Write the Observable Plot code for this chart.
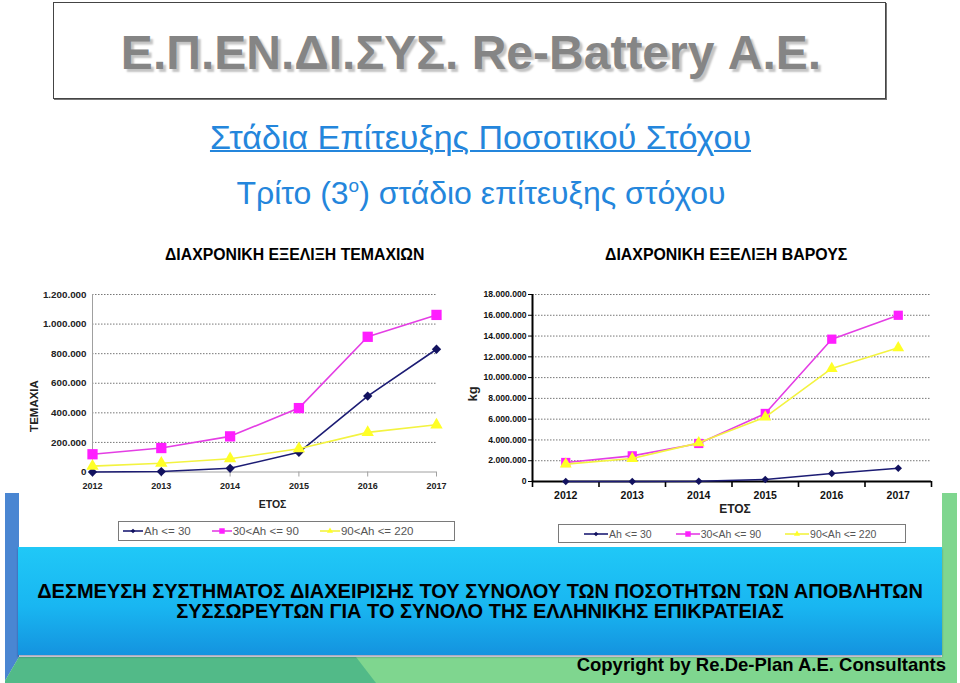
<!DOCTYPE html>
<html><head><meta charset="utf-8">
<script src="https://cdn.jsdelivr.net/npm/d3@7"></script>
<script src="https://cdn.jsdelivr.net/npm/@observablehq/plot@0.6"></script>
<style>
body{margin:0;background:#fff;}
#page{position:relative;width:960px;height:683px;overflow:hidden;background:#fff;font-family:"Liberation Sans",Arial,sans-serif;color:#000;}
.abs{position:absolute;}
.t{position:absolute;line-height:1;white-space:nowrap;}
.legend{position:absolute;box-sizing:border-box;border:1px solid #7a7a7a;background:#fff;display:flex;align-items:center;color:#555;white-space:nowrap;}
.legend .item{display:flex;align-items:center;}
.rot{position:absolute;transform:translate(-50%,-50%) rotate(-90deg);font-weight:bold;white-space:nowrap;line-height:1;}
</style></head><body>
<div id="page">
  <!-- bottom decoration -->
  <svg class="abs" style="left:0;top:0" width="960" height="683">
    <polygon points="5,493 19,493 19,657 5,681" fill="#4a86d2"/>
    <polygon points="942,493 957,493 957,683 942,683" fill="#7fd68f"/>
    <polygon points="19,657 957,657 957,683 5,683 5,681" fill="#7fd68f"/>
    <polygon points="19,657 356,657 376,683 5,683 5,681" fill="#52ba88"/>
  </svg>
  <div class="abs" style="left:18px;top:547px;width:924px;height:108px;background:linear-gradient(to bottom,#20c8f7 0%,#19b6f1 55%,#1493df 100%);box-shadow:0 2px 2px rgba(0,0,60,0.35);"></div>

  <div class="abs" style="left:53px;top:2px;width:833px;height:97px;box-sizing:border-box;border:1px solid #444;box-shadow:1px 1px 0 #777;"></div>
  <div class="t" style="left:0;width:942px;top:29px;text-align:center;font-size:48px;font-weight:bold;color:#858585;text-shadow:3px 3px 2px #c4c4c4;">Ε.Π.ΕΝ.ΔΙ.ΣΥΣ. Re-Battery Α.Ε.</div>
  <div class="t" style="left:0;width:961px;top:120px;text-align:center;font-size:34px;color:#2486dc;text-decoration:underline;text-decoration-thickness:2px;">Στάδια Επίτευξης Ποσοτικού Στόχου</div>
  <div class="t" style="left:0;width:962px;top:177px;text-align:center;font-size:32px;color:#2486dc;">Τρίτο (3<span style="font-size:19px;vertical-align:12px;line-height:0">ο</span>) στάδιο επίτευξης στόχου</div>
  <div class="t" style="left:165px;top:246.6px;font-size:15.8px;font-weight:bold;">ΔΙΑΧΡΟΝΙΚΗ ΕΞΕΛΙΞΗ ΤΕΜΑΧΙΩΝ</div>
  <div class="t" style="left:605px;top:246.6px;font-size:15.9px;font-weight:bold;">ΔΙΑΧΡΟΝΙΚΗ ΕΞΕΛΙΞΗ ΒΑΡΟΥΣ</div>

  <div id="chartL" class="abs" style="left:20px;top:280px;"></div>
  <div id="chartR" class="abs" style="left:460px;top:280px;"></div>
  <div class="rot" style="left:35px;top:406px;font-size:11.5px;color:#222;">ΤΕΜΑΧΙΑ</div>
  <div class="rot" style="left:472px;top:394px;font-size:13px;color:#222;">kg</div>
  <div id="legL" class="legend" style="left:118px;top:521px;width:337px;height:20px;padding-left:4px;font-size:11.5px;gap:21px;"></div>
  <div id="legR" class="legend" style="left:558px;top:524px;width:348px;height:19px;padding-left:25px;font-size:10.5px;gap:24px;"></div>

  <div class="t" style="left:0;width:960px;top:581px;text-align:center;font-size:20px;font-weight:bold;line-height:20px;">ΔΕΣΜΕΥΣΗ ΣΥΣΤΗΜΑΤΟΣ ΔΙΑΧΕΙΡΙΣΗΣ ΤΟΥ ΣΥΝΟΛΟΥ ΤΩΝ ΠΟΣΟΤΗΤΩΝ ΤΩΝ ΑΠΟΒΛΗΤΩΝ<br>ΣΥΣΣΩΡΕΥΤΩΝ ΓΙΑ ΤΟ ΣΥΝΟΛΟ ΤΗΣ ΕΛΛΗΝΙΚΗΣ ΕΠΙΚΡΑΤΕΙΑΣ</div>
  <div class="t" style="right:14px;top:656px;font-size:18.5px;font-weight:bold;">Copyright by Re.De-Plan A.E. Consultants</div>
</div>
<script>
// ---- data ----
const years = [2012, 2013, 2014, 2015, 2016, 2017];
const seriesNames = ["Ah <= 30", "30<Ah <= 90", "90<Ah <= 220"];
// pieces (ΤΕΜΑΧΙΑ)
const piecesAh30 = [0, 3000, 25000, 133000, 513000, 830000];
const pieces30to90 = [120000, 162000, 241000, 432000, 914000, 1062000];
const pieces90to220 = [40000, 59000, 90000, 157000, 268000, 319000];
// weight (kg)
const weightAh30 = [0, 0, 20000, 190000, 770000, 1280000];
const weight30to90 = [1830000, 2470000, 3660000, 6550000, 13700000, 16000000];
const weight90to220 = [1670000, 2210000, 3720000, 6190000, 10880000, 12870000];
// axis ticks
const piecesTicks = [0, 200000, 400000, 600000, 800000, 1000000, 1200000];
const weightTicks = [0, 2000000, 4000000, 6000000, 8000000, 10000000, 12000000, 14000000, 16000000, 18000000];
const axisTitleX = "ΕΤΟΣ";
// styles
const lineColors = ["#1c1c74", "#e43ee4", "#f3f340"];
const markerColors = ["#12125f", "#ff1eff", "#ffff26"];
const markerSymbols = ["diamond2", "square", "triangle"];

const fmt = d3.formatLocale({decimal: ",", thousands: ".", grouping: [3], currency: ["", "€"]}).format(",d");
function table(series) {
  return series.flatMap((vals, i) => years.map((yr, j) => ({series: seriesNames[i], idx: i, year: yr, value: vals[j]})));
}
function seriesMarks(data, radii, lw) {
  const m = [];
  seriesNames.forEach((s, i) => {
    const d = data.filter(r => r.idx === i);
    m.push(Plot.line(d, {x: "year", y: "value", stroke: lineColors[i], strokeWidth: lw}));
    m.push(Plot.dot(d, {x: "year", y: "value", symbol: markerSymbols[i], r: radii[i], fill: markerColors[i], stroke: "none"}));
  });
  return m;
}
const font = "Liberation Sans, Arial, sans-serif";

// ---- left chart: pieces ----
const dataL = table([piecesAh30, pieces30to90, pieces90to220]);
const left = Plot.plot({
  width: 440, height: 240,
  marginLeft: 72, marginRight: 24, marginTop: 14, marginBottom: 48.5,
  style: {background: "transparent", fontFamily: font, overflow: "visible"},
  x: {domain: [years[0], years[years.length - 1]]},
  y: {domain: [piecesTicks[0], piecesTicks[piecesTicks.length - 1]]},
  marks: [
    Plot.gridY({ticks: piecesTicks.slice(1), stroke: "#777", strokeOpacity: 1, strokeDasharray: "1.5,1.5"}),
    Plot.ruleY([piecesTicks[0]], {stroke: "#a0a0a0"}),
    Plot.ruleX([years[0]], {stroke: "#a0a0a0"}),
    Plot.axisX({ticks: years, label: null, tickSize: 5, tickPadding: 6, tickFormat: d => String(d), stroke: "#a0a0a0", fill: "#222", fontWeight: "bold", fontSize: 9}),
    Plot.axisY({ticks: piecesTicks, label: null, tickSize: 0, tickPadding: 6, tickFormat: fmt, fill: "#222", fontWeight: "bold", fontSize: 9.8}),
    Plot.text([axisTitleX], {frameAnchor: "bottom", dy: 36, dx: 8, fontWeight: "bold", fontSize: 10.5, fill: "#222"}),
    ...seriesMarks(dataL, [4.2, 5.8, 4.6], 1.6)
  ]
});
document.getElementById("chartL").append(left);

// ---- right chart: weight ----
const dataR = table([weightAh30, weight30to90, weight90to220]);
const edges = years.map(y => y - 0.5).concat([years[years.length - 1] + 0.5]);
const right = Plot.plot({
  width: 490, height: 245,
  marginLeft: 72, marginRight: 19, marginTop: 14, marginBottom: 44,
  style: {background: "transparent", fontFamily: font, overflow: "visible"},
  x: {domain: [edges[0], edges[edges.length - 1]]},
  y: {domain: [weightTicks[0], weightTicks[weightTicks.length - 1]]},
  marks: [
    Plot.gridY({ticks: weightTicks.slice(1), stroke: "#777", strokeOpacity: 1, strokeDasharray: "1.5,1.5"}),
    Plot.axisX({ticks: edges, label: null, tickSize: 6, tickFormat: () => "", stroke: "#000", strokeWidth: 1.6}),
    Plot.axisX({ticks: years, label: null, tickSize: 0, tickPadding: 10, tickFormat: d => String(d), fill: "#111", fontWeight: "bold", fontSize: 10.5}),
    Plot.axisY({ticks: weightTicks, label: null, tickSize: 4, tickPadding: 2, tickFormat: fmt, stroke: "#000", fill: "#111", fontWeight: "bold", fontSize: 8.6}),
    Plot.ruleY([weightTicks[0]], {stroke: "#000", strokeWidth: 2}),
    Plot.ruleX([edges[0]], {stroke: "#000", strokeWidth: 2}),
    Plot.text([axisTitleX], {frameAnchor: "bottom", dy: 31, dx: 3, fontWeight: "bold", fontSize: 12, fill: "#222"}),
    ...seriesMarks(dataR, [3.4, 5.2, 4.4], 1.6)
  ]
});
document.getElementById("chartR").append(right);

// ---- legends ----
const symbolTypes = {diamond2: d3.symbolDiamond2, square: d3.symbolSquare, triangle: d3.symbolTriangle};
const legendSizes = [14, 30, 16];
function buildLegend(el, swatchW) {
  seriesNames.forEach((s, i) => {
    const item = document.createElement("span");
    item.className = "item";
    const path = d3.symbol(symbolTypes[markerSymbols[i]], legendSizes[i])();
    item.innerHTML = `<svg width="${swatchW}" height="10" style="margin-right:1px"><line x1="0" x2="${swatchW}" y1="5" y2="5" stroke="${lineColors[i]}" stroke-width="1.6"/><path d="${path}" transform="translate(${swatchW / 2},5)" fill="${markerColors[i]}"/></svg>`;
    const tx = document.createElement("span");
    tx.textContent = s;
    item.append(tx);
    el.append(item);
  });
}
buildLegend(document.getElementById("legL"), 20);
buildLegend(document.getElementById("legR"), 24);
</script>
</body></html>
